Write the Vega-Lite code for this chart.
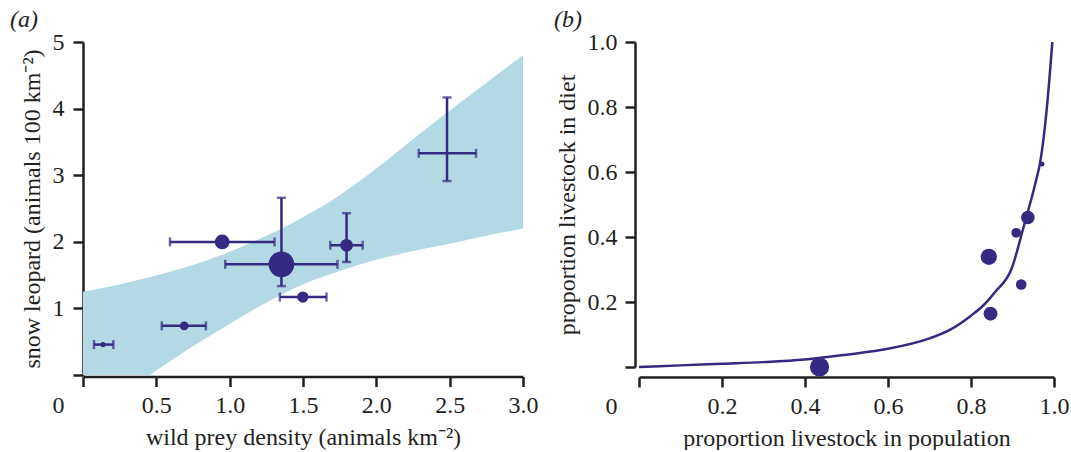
{
  "$schema": "https://vega.github.io/schema/vega-lite/v6.json",
  "padding": {"left": 10, "top": 8, "right": 0, "bottom": 0},
  "background": "white",
  "config": {
    "view": {"stroke": null},
    "font": "Liberation Serif",
    "axis": {
      "grid": false,
      "domainColor": "#231f20",
      "domainWidth": 2.5,
      "tickColor": "#231f20",
      "tickWidth": 2.5,
      "tickSize": 10,
      "labelFlush": false,
      "labelOverlap": false,
      "labelFont": "Liberation Serif",
      "labelFontSize": 24,
      "labelColor": "#231f20",
      "titleFont": "Liberation Serif",
      "titleFontSize": 24,
      "titleFontWeight": "normal",
      "titleColor": "#231f20"
    },
    "title": {"font": "Liberation Serif", "fontSize": 24, "fontWeight": "normal", "fontStyle": "italic", "color": "#231f20"}
  },
  "datasets": {
    "band": [
      {"x": 0.0, "lo": -0.72, "hi": 1.25},
      {"x": 0.25, "lo": -0.34, "hi": 1.36},
      {"x": 0.457, "lo": 0.0, "hi": 1.47},
      {"x": 0.75, "lo": 0.43, "hi": 1.65},
      {"x": 1.0, "lo": 0.77, "hi": 1.85},
      {"x": 1.25, "lo": 1.09, "hi": 2.09},
      {"x": 1.5, "lo": 1.36, "hi": 2.37},
      {"x": 1.75, "lo": 1.56, "hi": 2.70},
      {"x": 2.0, "lo": 1.73, "hi": 3.10},
      {"x": 2.25, "lo": 1.86, "hi": 3.54},
      {"x": 2.5, "lo": 1.97, "hi": 3.97},
      {"x": 2.75, "lo": 2.09, "hi": 4.39},
      {"x": 3.0, "lo": 2.20, "hi": 4.80}
    ],
    "sites": [
      {"x": 0.136, "y": 0.457, "xlo": 0.075, "xhi": 0.207, "ylo": null, "yhi": null, "weight": 28},
      {"x": 0.690, "y": 0.738, "xlo": 0.537, "xhi": 0.838, "ylo": null, "yhi": null, "weight": 79},
      {"x": 0.949, "y": 1.998, "xlo": 0.593, "xhi": 1.306, "ylo": null, "yhi": null, "weight": 218},
      {"x": 1.353, "y": 1.662, "xlo": 0.970, "xhi": 1.735, "ylo": 1.335, "yhi": 2.661, "weight": 660},
      {"x": 1.499, "y": 1.170, "xlo": 1.342, "xhi": 1.660, "ylo": null, "yhi": null, "weight": 126},
      {"x": 1.797, "y": 1.948, "xlo": 1.686, "xhi": 1.907, "ylo": 1.697, "yhi": 2.430, "weight": 161},
      {"x": 2.482, "y": 3.328, "xlo": 2.289, "xhi": 2.680, "ylo": 2.912, "yhi": 4.167, "weight": 0}
    ],
    "curve": [
      {"p": 0.0, "d": 0.0},
      {"p": 0.1, "d": 0.005},
      {"p": 0.2, "d": 0.010},
      {"p": 0.3, "d": 0.015},
      {"p": 0.4, "d": 0.023},
      {"p": 0.5, "d": 0.038},
      {"p": 0.6, "d": 0.056},
      {"p": 0.7, "d": 0.088},
      {"p": 0.75, "d": 0.115},
      {"p": 0.8, "d": 0.158},
      {"p": 0.83, "d": 0.19},
      {"p": 0.858, "d": 0.231},
      {"p": 0.898, "d": 0.303},
      {"p": 0.926, "d": 0.427},
      {"p": 0.946, "d": 0.52},
      {"p": 0.958, "d": 0.58},
      {"p": 0.966, "d": 0.625},
      {"p": 0.982, "d": 0.787},
      {"p": 0.996, "d": 1.0}
    ],
    "diet": [
      {"p": 0.435, "d": 0.0, "weight": 370},
      {"p": 0.843, "d": 0.339, "weight": 264},
      {"p": 0.847, "d": 0.164, "weight": 193},
      {"p": 0.909, "d": 0.413, "weight": 95},
      {"p": 0.937, "d": 0.460, "weight": 185},
      {"p": 0.921, "d": 0.254, "weight": 113},
      {"p": 0.971, "d": 0.625, "weight": 25}
    ]
  },
  "hconcat": [
    {
      "width": 440,
      "height": 333,
      "title": {"text": "(a)", "anchor": "start", "frame": "bounds", "dx": -10, "offset": -2},
      "layer": [
        {
          "data": {"name": "band"},
          "mark": {"type": "area", "color": "#b3d9e5", "clip": true, "interpolate": "monotone", "opacity": 1},
          "encoding": {
            "x": {"field": "x", "type": "quantitative", "scale": {"domain": [0, 3], "nice": false},
              "title": "wild prey density (animals km⁻²)",
              "axis": {"values": [0, 0.5, 1, 1.5, 2, 2.5, 3], "offset": 1.5, "labelPadding": 7, "titlePadding": 8,
                "labelExpr": "datum.value == 0 ? '0' : format(datum.value, '.1f')",
                "labelOffset": {"condition": {"test": "datum.value == 0", "value": -25}, "value": 0}}},
            "y": {"field": "lo", "type": "quantitative", "scale": {"domain": [0, 5], "nice": false},
              "title": "snow leopard (animals 100 km⁻²)",
              "axis": {"values": [0, 1, 2, 3, 4, 5], "labelPadding": 9, "titlePadding": 8,
                "labelExpr": "datum.value == 0 ? '' : format(datum.value, 'd')"}},
            "y2": {"field": "hi"}
          }
        },
        {
          "data": {"name": "sites"},
          "mark": {"type": "errorbar", "ticks": {"size": 9, "thickness": 2.5}, "rule": {"strokeWidth": 2.5}, "color": "#352a82"},
          "encoding": {
            "x": {"field": "xlo", "type": "quantitative", "title": "wild prey density (animals km⁻²)"},
            "x2": {"field": "xhi"},
            "y": {"field": "y", "type": "quantitative", "title": "snow leopard (animals 100 km⁻²)"}
          }
        },
        {
          "data": {"name": "sites"},
          "transform": [{"filter": "datum.ylo != null"}],
          "mark": {"type": "errorbar", "ticks": {"size": 9, "thickness": 2.5}, "rule": {"strokeWidth": 2.5}, "color": "#352a82"},
          "encoding": {
            "y": {"field": "ylo", "type": "quantitative", "title": "snow leopard (animals 100 km⁻²)"},
            "y2": {"field": "yhi"},
            "x": {"field": "x", "type": "quantitative", "title": "wild prey density (animals km⁻²)"}
          }
        },
        {
          "data": {"name": "sites"},
          "mark": {"type": "circle", "color": "#352a82", "opacity": 1},
          "encoding": {
            "x": {"field": "x", "type": "quantitative", "title": "wild prey density (animals km⁻²)"},
            "y": {"field": "y", "type": "quantitative", "title": "snow leopard (animals 100 km⁻²)"},
            "size": {"field": "weight", "type": "quantitative", "scale": {"domain": [0, 700], "range": [0, 700]}, "legend": null}
          }
        }
      ]
    },
    {
      "width": 415,
      "height": 325,
      "title": {"text": "(b)", "anchor": "start", "frame": "bounds", "dx": -1, "offset": -2},
      "layer": [
        {
          "data": {"name": "curve"},
          "mark": {"type": "line", "color": "#352a82", "strokeWidth": 2.5, "interpolate": "monotone"},
          "encoding": {
            "x": {"field": "p", "type": "quantitative", "scale": {"domain": [0, 1], "nice": false},
              "title": "proportion livestock in population",
              "axis": {"values": [0, 0.2, 0.4, 0.6, 0.8, 1], "offset": 10, "labelPadding": 7, "titlePadding": 8,
                "labelExpr": "datum.value == 0 ? '0' : format(datum.value, '.1f')",
                "labelOffset": {"condition": {"test": "datum.value == 0", "value": -28}, "value": 0}}},
            "y": {"field": "d", "type": "quantitative", "scale": {"domain": [0, 1], "nice": false},
              "title": "proportion livestock in diet",
              "axis": {"values": [0, 0.2, 0.4, 0.6, 0.8, 1], "offset": 4, "labelPadding": 8, "titlePadding": 8,
                "labelExpr": "datum.value == 0 ? '' : format(datum.value, '.1f')"}}
          }
        },
        {
          "data": {"name": "diet"},
          "mark": {"type": "circle", "color": "#352a82", "opacity": 1},
          "encoding": {
            "x": {"field": "p", "type": "quantitative", "title": "proportion livestock in population"},
            "y": {"field": "d", "type": "quantitative", "title": "proportion livestock in diet"},
            "size": {"field": "weight", "type": "quantitative", "scale": {"domain": [0, 700], "range": [0, 700]}, "legend": null}
          }
        }
      ]
    }
  ],
  "bounds": "flush",
  "spacing": 116,
  "resolve": {"scale": {"x": "independent", "y": "independent", "size": "independent"}}
}
